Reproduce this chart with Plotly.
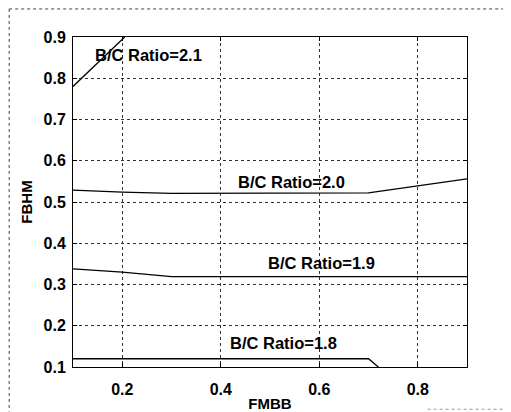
import plotly.graph_objects as go

# Data
x_21 = [0.1, 0.205]
y_21 = [0.78, 0.9]

x_20 = [0.1, 0.2, 0.3, 0.7, 0.9]
y_20 = [0.529, 0.524, 0.521, 0.522, 0.556]

x_19 = [0.1, 0.2, 0.3, 0.9]
y_19 = [0.338, 0.330, 0.319, 0.319]

x_18 = [0.1, 0.7, 0.72]
y_18 = [0.12, 0.12, 0.1]

label_text = ["B/C Ratio=2.1", "B/C Ratio=2.0", "B/C Ratio=1.9", "B/C Ratio=1.8"]
label_x = [0.254, 0.544, 0.604, 0.528]
label_y = [0.856, 0.548, 0.352, 0.158]

tick_x = [0.2, 0.4, 0.6, 0.8]
tick_y = [0.1, 0.2, 0.3, 0.4, 0.5, 0.6, 0.7, 0.8, 0.9]

FONT = "Liberation Sans, Arial, sans-serif"

fig = go.Figure()
for xs, ys in [(x_21, y_21), (x_20, y_20), (x_19, y_19), (x_18, y_18)]:
    fig.add_trace(go.Scatter(x=xs, y=ys, mode="lines",
                             line=dict(color="black", width=1.3),
                             showlegend=False, hoverinfo="skip"))

for t, lx, ly in zip(label_text, label_x, label_y):
    fig.add_annotation(x=lx, y=ly, text=t, showarrow=False,
                       font=dict(family=FONT, size=16.5, color="black", weight="bold"))

axis_common = dict(
    showline=True, linecolor="black", linewidth=1, mirror="ticks",
    ticks="inside", ticklen=4, tickcolor="black",
    showgrid=True, gridcolor="#333", griddash="dot", gridwidth=1,
    zeroline=False, automargin=False,
    tickfont=dict(family=FONT, size=16, color="black", weight="bold"),
)

fig.update_xaxes(range=[0.1, 0.9], tickvals=tick_x, ticktext=[f"{v:.1f}" for v in tick_x],
                 ticklabelstandoff=8,
                 title=dict(text="FMBB", font=dict(family=FONT, size=15, color="black", weight="bold"), standoff=6),
                 **axis_common)
fig.update_yaxes(range=[0.1, 0.9], tickvals=tick_y, ticktext=[f"{v:.1f}" for v in tick_y],
                 ticklabelstandoff=3,
                 title=dict(text="FBHM", font=dict(family=FONT, size=15, color="black", weight="bold"), standoff=7),
                 **axis_common)

# outer dotted frame (partial, as in the scanned figure)
fig.add_shape(type="line", xref="paper", yref="paper", x0=-0.162, x1=1.12, y0=1.085, y1=1.085,
              line=dict(color="#444", width=1, dash="dot"))
fig.add_shape(type="line", xref="paper", yref="paper", x0=-0.162, x1=-0.162, y0=1.085, y1=-0.135,
              line=dict(color="#444", width=1, dash="dot"))
fig.add_shape(type="line", xref="paper", yref="paper", x0=0.90, x1=1.12, y0=-0.128, y1=-0.128,
              line=dict(color="#999", width=1, dash="dot"))

# page body has an 8px default margin, so the figure is sized to fit inside it
fig.update_layout(
    width=503, height=404,
    margin=dict(l=65, r=44, t=29, b=45),
    paper_bgcolor="white", plot_bgcolor="white",
    font=dict(family=FONT, color="black"),
)

fig.write_html("out.html")
